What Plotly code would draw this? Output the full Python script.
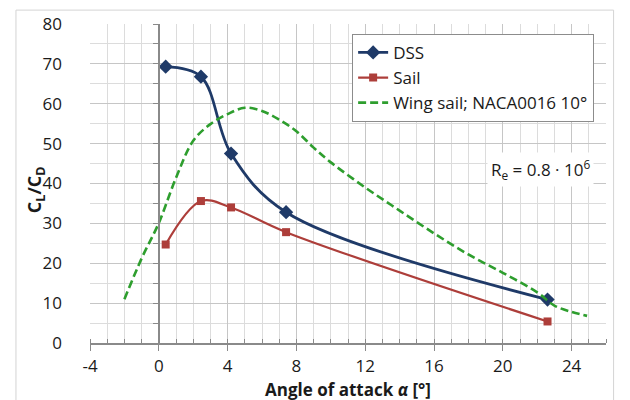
import plotly.graph_objects as go

# Lift-to-drag ratio versus angle of attack
alpha_dss = [0.4, 2.45, 4.2, 7.4, 22.6]
ld_dss = [69.3, 66.8, 47.5, 32.8, 10.9]

alpha_sail = [0.4, 2.45, 4.2, 7.4, 22.6]
ld_sail = [24.7, 35.6, 34.0, 27.8, 5.4]

alpha_wing = [-2, -1, 0, 1, 2, 3, 4, 5, 6, 7, 8, 9, 10, 12, 14, 16, 18, 20, 22, 23, 24, 24.9]
ld_wing = [11.0, 21.2, 30.1, 41.4, 50.7, 54.9, 57.4, 59.0, 58.2, 56.0, 53.1, 49.0, 45.3,
           39.0, 33.2, 27.5, 22.2, 17.6, 12.7, 9.4, 7.8, 6.8]

x_ticks = [-4, 0, 4, 8, 12, 16, 20, 24]
y_ticks = [0, 10, 20, 30, 40, 50, 60, 70, 80]

FONT = "Open Sans"
AXIS_GREY = "#8a8a8a"
GRID_MAJOR = "#c6c6c6"
GRID_MINOR = "#dcdcdc"

fig = go.Figure()

fig.add_trace(go.Scatter(
    x=alpha_dss, y=ld_dss, name="DSS", mode="lines+markers",
    line=dict(color="#1f3a68", width=2.8, shape="spline", smoothing=1),
    marker=dict(symbol="diamond", size=11, color="#1f3a68"),
))
fig.add_trace(go.Scatter(
    x=alpha_sail, y=ld_sail, name="Sail", mode="lines+markers",
    line=dict(color="#ad3e3a", width=2.2, shape="spline", smoothing=1),
    marker=dict(symbol="square", size=8, color="#ad3e3a"),
))
fig.add_trace(go.Scatter(
    x=alpha_wing, y=ld_wing, name="Wing sail; NACA0016 10°", mode="lines",
    line=dict(color="#2e9e2e", width=2.6, dash="8px,4px", shape="spline", smoothing=1),
))

# vertical axis line crossing at alpha = 0
fig.add_trace(go.Scatter(x=[None], y=[None], yaxis="y2", showlegend=False, hoverinfo="skip"))

fig.update_layout(
    width=630, height=400,
    margin=dict(l=90, r=24, t=21, b=57),
    paper_bgcolor="white", plot_bgcolor="white",
    font=dict(family=FONT, size=17, color="#1a1a1a"),
    xaxis=dict(
        range=[-4, 26], tickvals=x_ticks, ticktext=[str(v) for v in x_ticks],
        showgrid=True, gridcolor=GRID_MAJOR, gridwidth=1,
        zeroline=False, showline=True, linecolor=AXIS_GREY, linewidth=1.5,
        ticks="outside", ticklen=6, tickcolor=AXIS_GREY, tickwidth=1.2,
        ticklabelstandoff=1,
        minor=dict(dtick=1, showgrid=True, gridcolor=GRID_MINOR, gridwidth=1,
                   ticks="inside", ticklen=4, tickcolor=AXIS_GREY),
        mirror=False,
    ),
    yaxis=dict(
        range=[0, 80], tickvals=y_ticks, ticktext=[str(v) for v in y_ticks],
        showgrid=True, gridcolor=GRID_MAJOR, gridwidth=1,
        zeroline=False, showline=False, ticks="",
        ticklabelstandoff=27,
        minor=dict(dtick=5, showgrid=True, gridcolor=GRID_MINOR, gridwidth=1),
    ),
    yaxis2=dict(
        range=[0, 80], overlaying="y", anchor="free", position=4 / 30, side="left",
        showgrid=False, zeroline=False, showline=True, linecolor=AXIS_GREY, linewidth=1.5,
        ticks="outside", ticklen=5, tickcolor=AXIS_GREY, tickwidth=1.2, dtick=5,
        showticklabels=False,
    ),
    legend=dict(
        x=0.508, y=0.969, xanchor="left", yanchor="top",
        bgcolor="white", bordercolor="#8c8c8c", borderwidth=1,
        font=dict(family=FONT, size=17, color="#1a1a1a"),
        tracegroupgap=0,
    ),
    showlegend=True,
)

# Reynolds number note
fig.add_annotation(
    x=25.3, y=43.4, xref="x", yref="y", xanchor="right", yanchor="middle",
    text="R<sub>e</sub> = 0.8 · 10<sup>6</sup>", showarrow=False,
    bgcolor="white", borderpad=3,
    font=dict(family=FONT, size=17, color="#1a1a1a"),
)

# axis titles
fig.add_annotation(
    x=-0.104, y=0.48, xref="paper", yref="paper", xanchor="center", yanchor="middle",
    text="<b>C<sub>L</sub>/C<sub>D</sub></b>", textangle=-90, showarrow=False,
    font=dict(family=FONT, size=18, color="#1a1a1a"),
)
fig.add_annotation(
    x=0.5, y=-0.146, xref="paper", yref="paper", xanchor="center", yanchor="middle",
    text="<b>Angle of attack <i>α</i> [°]</b>", showarrow=False,
    font=dict(family=FONT, size=17, color="#1a1a1a"),
)

# chart area frame
fig.add_shape(
    type="rect", xref="paper", yref="paper",
    x0=-0.1435, x1=1.0147, y0=-0.3, y1=1.0435,
    line=dict(color="#d4d4d4", width=1), layer="below",
)

fig.write_html("out.html")
